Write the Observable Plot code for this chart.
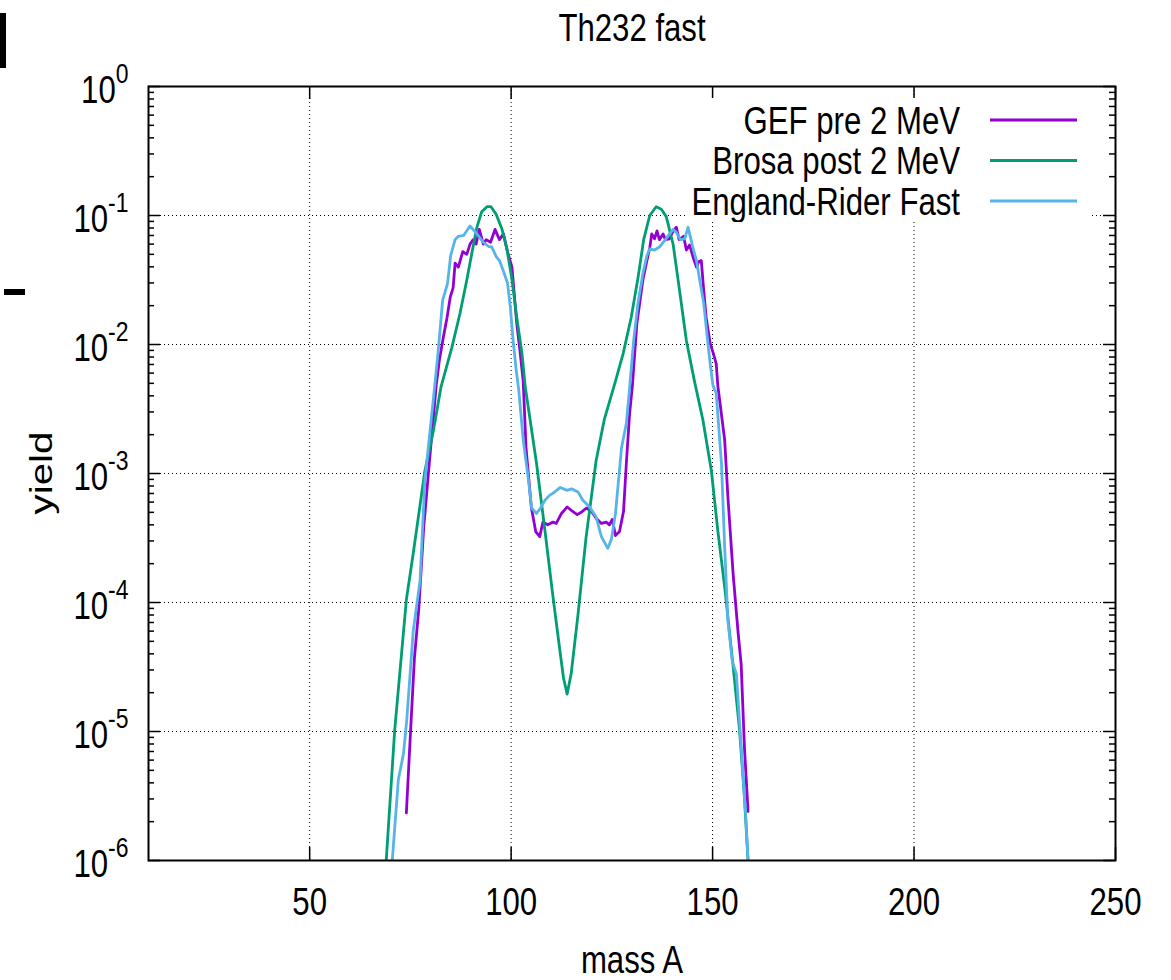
<!DOCTYPE html>
<html><head><meta charset="utf-8">
<script src="https://cdn.jsdelivr.net/npm/d3@7"></script>
<script src="https://cdn.jsdelivr.net/npm/@observablehq/plot@0.6"></script>
<style>
body{margin:0;background:#fff;}
#wrap{position:relative;width:1171px;height:980px;overflow:hidden;background:#fff;}
.art{position:absolute;background:#000;}
</style></head><body><div id="wrap"></div>
<script>
const title = "Th232 fast";
const xLabel = "mass A";
const yLabel = "yield";
const seriesNames = ["GEF pre 2 MeV", "Brosa post 2 MeV", "England-Rider Fast"];
const seriesColors = ["#9400d3", "#009e73", "#56b4e9"];
const xTicks = [50, 100, 150, 200, 250];
const yExponents = [-6, -5, -4, -3, -2, -1, 0];

const massGEF = [74.0,75,76,77.1,78.3,79.6,81.4,82.2,83.2,84.1,84.9,85.6,86.1,86.9,88.0,89.0,89.8,90.6,91.3,92.1,93.1,93.8,94.9,96.0,97.1,98.1,99.1,100.2,100.7,101.4,102.2,103.0,103.7,105.0,106.1,107.1,107.9,109.1,110.4,111.2,112.5,113.9,115.2,116.4,117.4,118.7,119.9,121.1,122.4,123.6,124.4,125.1,125.9,126.9,127.9,128.6,129.4,130.1,131.2,132.7,133.7,134.4,134.9,135.6,136.2,136.8,137.7,138.3,139.3,140.2,141.0,141.7,142.8,143.5,144.3,145.3,146.0,146.6,147.2,147.8,148.4,149.4,150.2,150.9,151.3,153.0,153.8,155.1,156.3,157.1,157.9,158.8];
const yieldGEF = [2.34e-6,9.5e-6,3.7e-5,9.1e-5,3.8e-4,1.12e-3,4.8e-3,7.6e-3,1.15e-2,1.62e-2,2.34e-2,2.75e-2,4.27e-2,3.98e-2,5.25e-2,5.0e-2,6.0e-2,6.5e-2,6.0e-2,7.8e-2,6.0e-2,6.5e-2,6.2e-2,7.8e-2,6.5e-2,7.2e-2,5.25e-2,3.98e-2,2.63e-2,1.45e-2,8.9e-3,5.2e-3,1.58e-3,5.5e-4,3.55e-4,3.24e-4,4.2e-4,4.0e-4,4.2e-4,4.1e-4,4.9e-4,5.5e-4,5.1e-4,4.8e-4,5.0e-4,5.4e-4,5.1e-4,4.5e-4,4.1e-4,4.2e-4,4.0e-4,4.4e-4,3.3e-4,3.55e-4,5.1e-4,1.2e-3,2.9e-3,4.8e-3,1.45e-2,3.16e-2,4.47e-2,5.6e-2,7.2e-2,6.6e-2,7.6e-2,6.5e-2,7.2e-2,6.5e-2,6.6e-2,7.6e-2,8.1e-2,6.5e-2,6.9e-2,5.4e-2,5.9e-2,4.6e-2,3.98e-2,4.4e-2,4.47e-2,2.63e-2,1.62e-2,1.02e-2,8.5e-3,7.1e-3,4.8e-3,1.82e-3,6.6e-4,1.66e-4,6.0e-5,3.3e-5,7.6e-6,2.4e-6];

const massBrosa = [69.0,71.1,74.0,75.7,78.6,80.7,82.6,85.3,87.3,89.0,90.2,91.5,92.7,94.0,95.0,96.3,97.7,99.0,100.2,101.4,102.7,103.5,106.3,108.4,110.4,112.0,113.0,113.9,114.9,116.6,118.6,121.1,123.1,125.9,127.8,129.8,131.5,132.9,134.4,136.0,137.3,138.5,140.2,141.8,143.5,145.5,147.6,149.7,151.3,153.0,155.1,156.7,157.9,158.8];
const yieldBrosa = [1.0e-6,1.02e-5,1.05e-4,2.4e-4,1.05e-3,2.14e-3,4.7e-3,9.5e-3,1.74e-2,3.16e-2,5.0e-2,8.1e-2,0.107,0.117,0.117,0.102,7.9e-2,5.4e-2,3.2e-2,1.62e-2,8.5e-3,4.7e-3,1.2e-3,3.6e-4,1.1e-4,4.5e-5,2.6e-5,1.95e-5,2.8e-5,8.1e-5,3.2e-4,1.26e-3,2.6e-3,5.2e-3,8.5e-3,1.62e-2,3.3e-2,6.5e-2,0.1,0.117,0.112,9.8e-2,6.0e-2,2.63e-2,1.07e-2,5.2e-3,2.6e-3,1.05e-3,3.6e-4,1.32e-4,3.2e-5,1.02e-5,3.1e-6,1.0e-6];

const massER = [70.5,72.0,73.3,74.1,75.7,77.4,78.6,81.1,81.9,83.0,84.2,85.0,86.1,86.9,88.2,89.8,91.5,93.1,94.4,95.2,96.3,97.1,98.1,99.1,99.8,100.5,101.2,101.9,103.0,104.3,105.1,106.3,107.3,108.4,109.6,110.6,112.2,113.9,115.0,116.6,117.8,119.5,121.1,122.4,124.0,124.9,125.9,127.4,128.6,129.4,130.4,131.5,132.7,133.7,134.4,135.6,136.8,138.3,139.3,140.2,141.0,142.0,143.1,143.9,144.5,145.2,146.0,146.8,147.8,148.6,149.4,150.1,150.9,152.2,153.0,153.8,154.9,155.9,157.1,158.2,158.8];
const yieldER = [1.0e-6,4.2e-6,6.8e-6,1.23e-5,6.0e-5,1.48e-4,8.9e-4,5.0e-3,8.9e-3,2.2e-2,2.95e-2,4.9e-2,6.5e-2,6.9e-2,7.0e-2,8.3e-2,7.2e-2,6.2e-2,5.75e-2,5.7e-2,4.8e-2,4.47e-2,3.7e-2,3.0e-2,1.95e-2,1.07e-2,6.6e-3,4.4e-3,1.82e-3,8.9e-4,5.4e-4,4.9e-4,5.4e-4,6.2e-4,6.8e-4,7.1e-4,7.8e-4,7.4e-4,7.6e-4,7.2e-4,6.2e-4,5.5e-4,4.6e-4,3.24e-4,2.63e-4,3.1e-4,4.9e-4,1.58e-3,2.45e-3,4.6e-3,1.07e-2,2.1e-2,3.55e-2,4.9e-2,5.5e-2,5.4e-2,5.7e-2,6.5e-2,7.2e-2,7.8e-2,7.4e-2,6.5e-2,6.6e-2,8.1e-2,6.8e-2,5.5e-2,4.47e-2,3.16e-2,2.1e-2,1.2e-2,7.1e-3,4.8e-3,4.2e-3,1.2e-3,2.7e-4,7.2e-5,3.5e-5,2.8e-5,7.6e-6,2.3e-6,1.0e-6];

const seriesMass = [massGEF, massBrosa, massER];
const seriesYield = [yieldGEF, yieldBrosa, yieldER];

const rows = seriesNames.flatMap((name, i) =>
  seriesMass[i].map((A, j) => ({series: name, A, yield: seriesYield[i][j]})));

const yMajor = yExponents.map(e => Math.pow(10, e));
const yMinor = yExponents.slice(0, -1).flatMap(e => [2,3,4,5,6,7,8,9].map(k => k * Math.pow(10, e)));

const FONT = '"Liberation Sans", Arial, sans-serif';
const W = 1171, H = 980, mL = 148, mR = 56, mT = 86, mB = 120;
const fW = W - mL - mR, fH = H - mT - mB;
const grid = {stroke: "black", strokeOpacity: 1, strokeWidth: 1, strokeDasharray: "1,3"};
const tk = {stroke: "black", strokeWidth: 1.5};

const plot = Plot.plot({
  width: W, height: H, marginLeft: mL, marginRight: mR, marginTop: mT, marginBottom: mB,
  style: {fontFamily: FONT, fontSize: "38px", background: "white", color: "black"},
  x: {domain: [10, 250]},
  y: {type: "log", domain: [1e-6, 1]},
  color: {domain: seriesNames, range: seriesColors},
  marks: [
    Plot.gridX(xTicks.slice(0, -1), grid),
    Plot.gridY(yMajor.slice(1, -1), grid),
    Plot.line(rows, {x: "A", y: "yield", z: "series", stroke: "series", strokeWidth: 2.8, clip: true}),
    Plot.tickX(xTicks, {x: d => d, insetTop: fH - 13, ...tk}),
    Plot.tickX(xTicks, {x: d => d, insetBottom: fH - 13, ...tk}),
    Plot.tickY(yMajor, {y: d => d, insetRight: fW - 12, ...tk}),
    Plot.tickY(yMajor, {y: d => d, insetLeft: fW - 12, ...tk}),
    Plot.tickY(yMinor, {y: d => d, insetRight: fW - 6, ...tk}),
    Plot.tickY(yMinor, {y: d => d, insetLeft: fW - 6, ...tk}),
    Plot.axisX(xTicks, {tickSize: 0, tickPadding: 28, fontSize: 38, label: null}),
    Plot.axisY(yMajor, {tickSize: 0, tickPadding: 20, fontSize: 38, dy: 4, label: null,
      tickFormat: d => String(Math.round(Math.log10(d)))}),
    Plot.frame({stroke: "black", strokeWidth: 2}),
    Plot.text([title], {text: d => d, frameAnchor: "top", dy: -72, lineAnchor: "top", fontSize: 38}),
    Plot.text([xLabel], {text: d => d, frameAnchor: "bottom", dy: 86, lineAnchor: "top", fontSize: 38})
  ]
});

// superscript exponents on the log axis
d3.select(plot).selectAll('g[aria-label="y-axis tick label"] text').each(function() {
  const e = this.textContent;
  const t = d3.select(this);
  t.text("");
  t.append("tspan").text("10");
  t.append("tspan").attr("font-size", 28).attr("dy", "-0.72em").text(e);
});

const wrap = document.getElementById("wrap");
wrap.appendChild(plot);

// rotated y label
d3.select(plot).append("text")
  .attr("class", "ylab")
  .attr("transform", "translate(41,473) rotate(-90)")
  .attr("text-anchor", "middle").attr("dy", "0.35em")
  .style("font-family", FONT).style("font-size", "31px").attr("fill", "black")
  .text(yLabel);

// legend (inside plot, white box)
const lg = d3.select(wrap).append("svg")
  .attr("width", 404).attr("height", 124)
  .style("position", "absolute").style("left", "686px").style("top", "98px")
  .style("background", "white");
seriesNames.forEach((name, i) => {
  const cy = 22 + i * 40.5;
  lg.append("text").attr("x", 274).attr("y", cy).attr("dy", "0.36em")
    .attr("text-anchor", "end").style("font-family", FONT).style("font-size", "38px")
    .attr("fill", "black").text(name);
  lg.append("line").attr("x1", 304).attr("x2", 391).attr("y1", cy).attr("y2", cy)
    .attr("stroke", seriesColors[i]).attr("stroke-width", 2.8);
});

// the reference uses horizontally condensed lettering: squeeze glyphs
d3.select(wrap).selectAll("text").each(function() {
  const len = this.getComputedTextLength();
  const f = this.classList.contains("ylab") ? 1.3 : 0.82;
  this.setAttribute("textLength", (len * f).toFixed(1));
  this.setAttribute("lengthAdjust", "spacingAndGlyphs");
});

// stray marks at the left edge of the reference image
[[0, 13, 6, 55], [4, 289, 21, 6]].forEach(([l, t, w, h]) => {
  const d = document.createElement("div");
  d.className = "art";
  d.style.left = l + "px"; d.style.top = t + "px"; d.style.width = w + "px"; d.style.height = h + "px";
  wrap.appendChild(d);
});
</script></body></html>
